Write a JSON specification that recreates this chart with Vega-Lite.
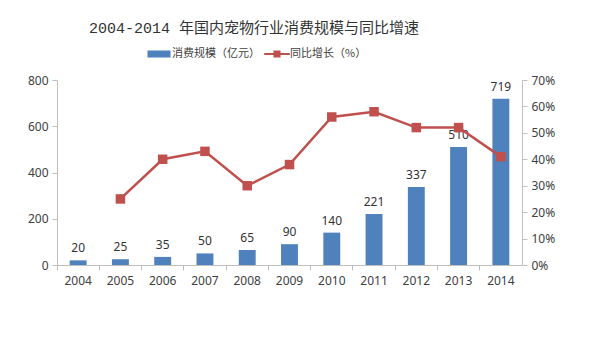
{
  "$schema": "https://vega.github.io/schema/vega-lite/v6.json",
  "width": 465,
  "height": 185,
  "autosize": {"type": "none"},
  "padding": {"left": 57, "top": 80, "right": 70, "bottom": 74},
  "background": "white",
  "title": {
    "text": "2004-2014 年国内宠物行业消费规模与同比增速",
    "anchor": "start",
    "frame": "group",
    "dx": 32,
    "offset": 10,
    "font": "Liberation Mono, Noto Sans CJK SC",
    "fontSize": 15,
    "fontWeight": "normal",
    "color": "#333333"
  },
  "config": {
    "view": {"stroke": null},
    "axis": {
      "grid": false,
      "title": null,
      "domainColor": "#bfbfbf",
      "tickColor": "#bfbfbf",
      "labelColor": "#404040",
      "labelFont": "Noto Sans",
      "labelFontSize": 12,
      "tickSize": 5
    }
  },
  "data": {
    "values": [
      {"year": "2004", "value": 20, "growth": null},
      {"year": "2005", "value": 25, "growth": 25},
      {"year": "2006", "value": 35, "growth": 40},
      {"year": "2007", "value": 50, "growth": 43},
      {"year": "2008", "value": 65, "growth": 30},
      {"year": "2009", "value": 90, "growth": 38},
      {"year": "2010", "value": 140, "growth": 56},
      {"year": "2011", "value": 221, "growth": 58},
      {"year": "2012", "value": 337, "growth": 52},
      {"year": "2013", "value": 510, "growth": 52},
      {"year": "2014", "value": 719, "growth": 41}
    ]
  },
  "layer": [
    {
      "mark": {"type": "bar", "width": {"band": 0.4}},
      "encoding": {
        "x": {
          "field": "year",
          "type": "ordinal",
          "scale": {"paddingInner": 0, "paddingOuter": 0},
          "axis": {"labelAngle": 0, "ticks": false, "domain": false, "labelPadding": 10}
        },
        "y": {
          "field": "value",
          "type": "quantitative",
          "scale": {"domain": [0, 800]},
          "axis": {"values": [0, 200, 400, 600, 800], "labelPadding": 4}
        },
        "color": {
          "datum": "消费规模（亿元）",
          "scale": {
            "domain": ["消费规模（亿元）", "同比增长（%）"],
            "range": ["#4f81bd", "#c0504d"]
          },
          "legend": {
            "title": null,
            "orient": "none",
            "legendX": 94,
            "legendY": -34,
            "direction": "horizontal",
            "labelFont": "Noto Sans CJK SC",
            "labelFontSize": 11,
            "labelColor": "#404040",
            "symbolSize": 256,
            "columnPadding": 4,
            "labelOffset": 5,
            "encode": {
              "symbols": {
                "update": {
                  "shape": {"signal": "datum.value === '消费规模（亿元）' ? 'M-1.44,-0.44H1.44V0.44H-1.44Z' : 'M-1.6,-0.14H1.6V0.14H-1.6Z M-0.44,-0.44H0.44V0.44H-0.44Z'"},
                  "fill": {"signal": "datum.value === '消费规模（亿元）' ? '#4f81bd' : '#c0504d'"},
                  "stroke": {"value": null},
                  "strokeWidth": {"value": 0},
                  "opacity": {"value": 1},
                  "fillOpacity": {"value": 1}
                }
              }
            }
          }
        }
      }
    },
    {
      "mark": {"type": "text", "baseline": "bottom", "dy": -5, "font": "Noto Sans", "fontSize": 12, "color": "#333333"},
      "encoding": {
        "x": {"field": "year", "type": "ordinal", "axis": null},
        "y": {"field": "value", "type": "quantitative", "axis": null},
        "text": {"field": "value", "type": "quantitative"}
      }
    },
    {
      "transform": [{"filter": "datum.growth != null"}],
      "mark": {
        "type": "line",
        "strokeWidth": 2.5,
        "point": {"filled": true, "shape": "square", "size": 90, "color": "#c0504d"}
      },
      "encoding": {
        "x": {
          "field": "year",
          "type": "ordinal",
          "axis": {"orient": "bottom", "labels": false, "ticks": true, "domain": true, "bandPosition": 0, "tickSize": 5}
        },
        "y": {
          "field": "growth",
          "type": "quantitative",
          "scale": {"domain": [0, 70]},
          "axis": {"orient": "right", "values": [0, 10, 20, 30, 40, 50, 60, 70], "labelExpr": "datum.value + '%'", "labelPadding": 4}
        },
        "color": {"datum": "同比增长（%）"}
      }
    }
  ],
  "resolve": {"scale": {"y": "independent"}, "axis": {"x": "independent"}}
}
